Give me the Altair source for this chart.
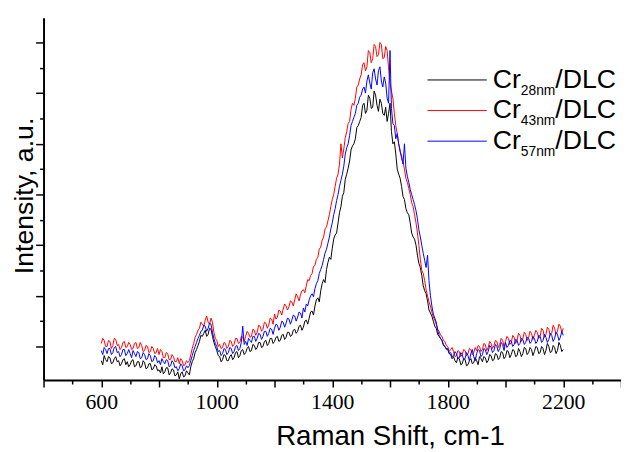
import altair as alt
import pandas as pd

# Raman shift (cm-1), one reading every 5 cm-1
shift = list(range(600, 2201, 5))

# intensity (a.u.), one row per 100 cm-1
cr28 = [
    86, 82, 91, 87, 85, 90, 89, 83, 84, 88, 90, 85, 86, 81, 83, 87, 88, 82, 85, 80,
    82, 86, 87, 80, 81, 85, 85, 79, 80, 86, 84, 78, 79, 83, 83, 77, 78, 82, 81, 76,
    77, 74, 80, 73, 75, 79, 79, 72, 74, 78, 77, 71, 72, 75, 68, 73, 75, 70, 71, 76,
    74, 72, 80, 85, 88, 94, 97, 101, 105, 111, 110, 113, 116, 110, 112, 118, 117, 110, 104, 100,
    96, 91, 90, 85, 87, 92, 91, 86, 86, 90, 92, 87, 89, 94, 95, 89, 91, 96, 97, 92,
    94, 98, 100, 95, 96, 102, 101, 97, 99, 104, 104, 99, 100, 105, 106, 101, 103, 108, 108, 103,
    105, 109, 110, 105, 106, 111, 112, 107, 109, 114, 114, 110, 111, 116, 117, 113, 115, 120, 121, 116,
    119, 125, 126, 122, 128, 134, 135, 131, 140, 146, 148, 144, 155, 162, 166, 163, 176, 183, 188, 186,
    197, 206, 210, 212, 222, 232, 238, 248, 252, 265, 270, 276, 283, 294, 298, 300, 305, 316, 318, 322,
    326, 338, 340, 330, 333, 348, 345, 335, 336, 352, 348, 338, 332, 344, 340, 330, 328, 336, 322, 330,
    340, 312, 300, 302, 290, 275, 270, 266, 258, 248, 245, 236, 232, 230, 222, 212, 208, 206, 200, 190,
    182, 178, 170, 160, 155, 152, 145, 136, 133, 130, 125, 120, 118, 112, 110, 108, 106, 101, 100, 98,
    97, 93, 92, 88, 90, 86, 84, 89, 88, 82, 83, 88, 87, 81, 82, 86, 88, 83, 84, 89,
    86, 82, 90, 88, 85, 90, 89, 84, 86, 92, 91, 86, 87, 93, 92, 87, 89, 95, 94, 88,
    90, 96, 95, 89, 92, 97, 96, 90, 91, 98, 95, 90, 93, 99, 98, 92, 94, 99, 97, 91,
    95, 100, 99, 93, 94, 100, 98, 92, 96, 103, 100, 94, 95, 101, 99, 93, 96, 104, 101, 95,
    97,
]
cr43 = [
    103, 108, 106, 100, 100, 106, 105, 98, 101, 108, 107, 101, 102, 97, 99, 104, 105, 99, 100, 104,
    102, 97, 98, 103, 104, 98, 99, 104, 101, 95, 96, 101, 100, 94, 95, 100, 98, 93, 94, 98,
    92, 97, 95, 89, 89, 94, 93, 87, 87, 92, 90, 85, 85, 89, 83, 88, 86, 81, 82, 86,
    84, 86, 92, 98, 103, 109, 112, 116, 118, 124, 122, 120, 126, 130, 124, 122, 128, 124, 114, 108,
    106, 100, 102, 98, 99, 104, 103, 98, 100, 106, 105, 100, 102, 108, 108, 103, 104, 110, 109, 105,
    110, 115, 113, 109, 110, 117, 116, 111, 114, 121, 120, 115, 117, 124, 123, 118, 121, 128, 127, 122,
    132, 127, 129, 136, 135, 131, 137, 142, 140, 136, 139, 145, 144, 140, 146, 152, 149, 145, 151, 155,
    156, 153, 160, 166, 165, 170, 172, 179, 180, 186, 188, 196, 198, 205, 208, 216, 218, 224, 230, 238,
    245, 250, 258, 266, 270, 280, 300, 286, 295, 306, 312, 320, 322, 334, 340, 338, 345, 356, 358, 364,
    368, 378, 380, 372, 376, 392, 390, 380, 384, 398, 396, 386, 388, 400, 398, 384, 385, 396, 392, 375,
    360, 352, 345, 330, 318, 310, 300, 294, 285, 282, 275, 266, 262, 256, 250, 242, 238, 230, 222, 212,
    200, 186, 175, 172, 165, 156, 150, 144, 140, 134, 129, 126, 122, 117, 115, 111, 110, 106, 105, 101,
    100, 95, 97, 99, 95, 90, 91, 96, 95, 90, 92, 97, 96, 91, 93, 98, 97, 92, 94, 99,
    96, 101, 100, 95, 97, 103, 102, 96, 99, 105, 103, 98, 101, 106, 105, 99, 102, 108, 106, 100,
    105, 110, 108, 102, 104, 111, 109, 103, 106, 113, 111, 105, 108, 114, 112, 106, 109, 115, 113, 107,
    111, 116, 114, 108, 110, 118, 116, 109, 112, 119, 117, 111, 113, 121, 118, 112, 115, 122, 120, 114,
    118,
]
cr57 = [
    96, 92, 99, 97, 93, 98, 98, 92, 94, 99, 100, 94, 95, 90, 92, 97, 97, 91, 93, 97,
    93, 89, 96, 93, 90, 95, 94, 88, 89, 94, 92, 87, 88, 93, 91, 85, 86, 91, 89, 84,
    86, 82, 88, 85, 83, 87, 86, 80, 81, 86, 84, 79, 80, 76, 78, 83, 81, 76, 77, 81,
    79, 81, 86, 91, 96, 100, 104, 108, 111, 115, 116, 121, 120, 115, 118, 123, 122, 114, 108, 103,
    100, 95, 96, 91, 93, 98, 97, 92, 94, 99, 98, 93, 95, 100, 101, 96, 98, 104, 120, 102,
    105, 101, 108, 106, 104, 110, 110, 105, 108, 113, 112, 107, 110, 115, 115, 110, 113, 118, 117, 112,
    118, 122, 121, 116, 119, 125, 124, 119, 123, 128, 127, 122, 126, 131, 130, 125, 129, 134, 133, 128,
    138, 134, 142, 140, 146, 150, 152, 149, 157, 162, 165, 172, 176, 180, 186, 192, 196, 202, 208, 216,
    222, 230, 236, 244, 250, 258, 264, 270, 278, 290, 296, 300, 308, 318, 322, 326, 330, 338, 340, 346,
    348, 354, 356, 350, 362, 368, 360, 354, 370, 374, 364, 358, 372, 376, 362, 356, 366, 360, 345, 340,
    392, 335, 320, 318, 305, 310, 300, 292, 288, 280, 300, 276, 268, 262, 255, 250, 245, 240, 234, 226,
    215, 208, 200, 192, 185, 178, 190, 165, 150, 140, 132, 128, 124, 116, 111, 108, 106, 102, 100, 97,
    98, 93, 94, 90, 91, 95, 93, 88, 89, 94, 92, 87, 88, 94, 91, 86, 93, 97, 90, 86,
    93, 97, 96, 90, 92, 98, 97, 92, 95, 101, 99, 94, 96, 102, 100, 95, 98, 104, 102, 96,
    104, 99, 101, 106, 105, 100, 102, 107, 106, 101, 103, 108, 107, 102, 104, 109, 108, 103, 105, 110,
    108, 103, 105, 111, 110, 104, 106, 112, 109, 104, 107, 113, 111, 105, 108, 114, 112, 106, 109, 115,
    111,
]

series_names = ["Cr28nm/DLC", "Cr43nm/DLC", "Cr57nm/DLC"]
series_subs = ["28nm", "43nm", "57nm"]
series_colors = ["#000000", "#ff0000", "#0000ff"]

x_ticks = list(range(400, 2401, 100))
x_labels = [600, 1000, 1400, 1800, 2200]
y_ticks = list(range(100, 401, 25))

W, H = 585, 367

label_expr = "indexof([" + ",".join(str(v) for v in x_labels) + "], datum.value) >= 0 ? datum.label : ''"

xaxis = alt.Axis(
    values=x_ticks, format="d", labelExpr=label_expr,
    tickSize={"condition": {"test": "datum.value % 200 === 0", "value": 7}, "value": 4},
    labelFont="Liberation Serif", labelFontSize=22, labelColor="black",
    labelPadding=5, labelFlush=False, labelOverlap=False,
    domainColor="black", domainWidth=2, tickColor="black", tickWidth=1.5, grid=False,
    title="Raman Shift, cm-1", titleFont="Liberation Sans", titleFontSize=28,
    titleFontWeight="normal", titleColor="black", titleX=351, titleY=65,
    titleAlign="center", titleBaseline="alphabetic",
)
yaxis = alt.Axis(
    values=y_ticks, labels=False,
    tickSize={"condition": {"test": "datum.value % 50 === 0", "value": 8}, "value": 4},
    domainColor="black", domainWidth=2, tickColor="black", tickWidth=1.5, grid=False,
    title="Intensity, a.u.", titleFont="Liberation Sans", titleFontSize=27,
    titleFontWeight="normal", titleColor="black", titleX=-19, titleY=180,
    titleAngle=270, titleAlign="center", titleBaseline="middle",
)

xscale = alt.Scale(domain=[400, 2400], nice=False, zero=False)
yscale = alt.Scale(domain=[66.9, 424.35], nice=False, zero=False)

layers = []
for name, vals, col in zip(series_names, [cr28, cr43, cr57], series_colors):
    df = pd.DataFrame({"shift": shift, "intensity": vals, "series": name})
    layers.append(
        alt.Chart(df).mark_line(color=col, strokeWidth=1, clip=True).encode(
            x=alt.X("shift:Q", scale=xscale, axis=xaxis),
            y=alt.Y("intensity:Q", scale=yscale, axis=yaxis),
        )
    )

# manual legend with subscripts
dummy = pd.DataFrame({"a": [0]})
row_y = [63, 94, 125]
for i, (sub, col) in enumerate(zip(series_subs, series_colors)):
    y0 = row_y[i]
    layers.append(alt.Chart(dummy).mark_rule(color=col, strokeWidth=1).encode(
        x=alt.value(389), x2=alt.value(449), y=alt.value(y0)))
    layers.append(alt.Chart(dummy).mark_text(
        align="left", baseline="alphabetic", font="Liberation Sans", fontSize=27, color="black"
    ).encode(x=alt.value(455), y=alt.value(y0 + 8), text=alt.value("Cr")))
    layers.append(alt.Chart(dummy).mark_text(
        align="left", baseline="alphabetic", font="Liberation Sans", fontSize=14, color="black"
    ).encode(x=alt.value(483.5), y=alt.value(y0 + 15), text=alt.value(sub)))
    layers.append(alt.Chart(dummy).mark_text(
        align="left", baseline="alphabetic", font="Liberation Sans", fontSize=27, color="black"
    ).encode(x=alt.value(518.5), y=alt.value(y0 + 8), text=alt.value("/DLC")))

chart = alt.layer(*layers).properties(
    width=W, height=H,
    autosize=alt.AutoSizeParams(type="none"),
    padding={"left": 36, "top": 7, "right": 0, "bottom": 70},
).configure_view(stroke=None)

chart.save("out.html", embed_options={"renderer": "svg", "actions": False})
